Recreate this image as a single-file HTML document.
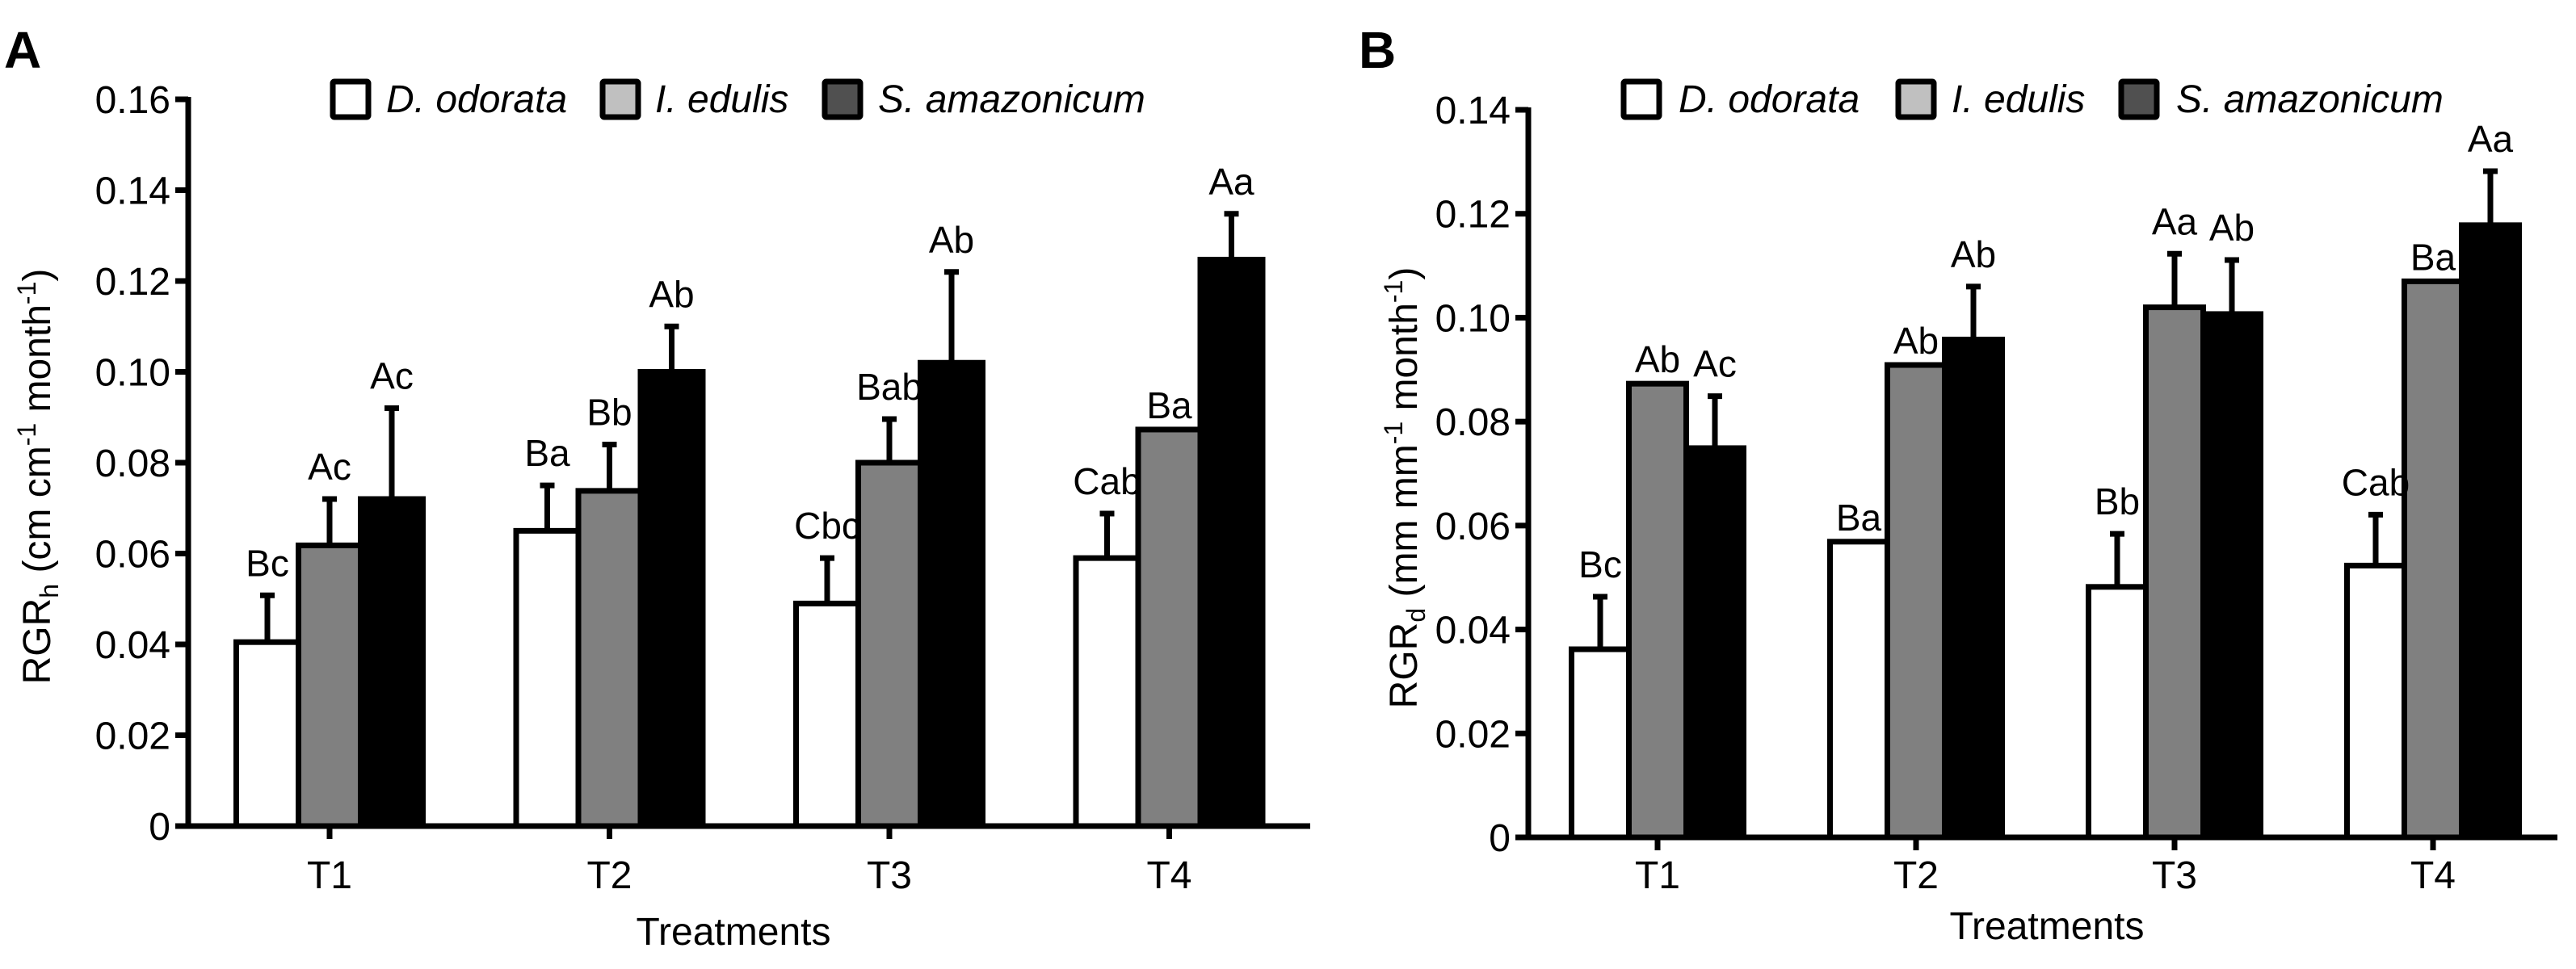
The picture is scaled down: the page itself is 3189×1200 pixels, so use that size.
<!DOCTYPE html>
<html><head><meta charset="utf-8"><style>
html,body{margin:0;padding:0;background:#fff;}
svg{display:block;font-family:"Liberation Sans",Arial,sans-serif;}
</style></head><body>
<svg id="chart" width="3189" height="1200" viewBox="0 0 3189 1200" xmlns="http://www.w3.org/2000/svg"></svg>
<script>
const categories = ["T1","T2","T3","T4"];
const seriesNames = ["D. odorata","I. edulis","S. amazonicum"];
// Panel A (RGRh)
const aOdorata = [0.0405, 0.065, 0.049, 0.059];
const aEdulis = [0.0618, 0.0738, 0.080, 0.0873];
const aAmazon = [0.072, 0.100, 0.102, 0.1247];
const aOdorataErr = [0.0103, 0.010, 0.010, 0.0098];
const aEdulisErr = [0.0102, 0.0102, 0.0096, 0];
const aAmazonErr = [0.020, 0.010, 0.020, 0.0101];
const aOdorataLbl = ["Bc","Ba","Cbc","Cab"];
const aEdulisLbl = ["Ac","Bb","Bab","Ba"];
const aAmazonLbl = ["Ac","Ab","Ab","Aa"];
const aTicks = [0,0.02,0.04,0.06,0.08,0.10,0.12,0.14,0.16];
const aTickLbl = ["0","0.02","0.04","0.06","0.08","0.10","0.12","0.14","0.16"];
// Panel B (RGRd)
const bOdorata = [0.0362, 0.0569, 0.0482, 0.0523];
const bEdulis = [0.0873, 0.0909, 0.102, 0.107];
const bAmazon = [0.0749, 0.0958, 0.1007, 0.1178];
const bOdorataErr = [0.0101, 0, 0.0102, 0.0098];
const bEdulisErr = [0, 0, 0.0103, 0];
const bAmazonErr = [0.010, 0.0102, 0.0104, 0.0104];
const bOdorataLbl = ["Bc","Ba","Bb","Cab"];
const bEdulisLbl = ["Ab","Ab","Aa","Ba"];
const bAmazonLbl = ["Ac","Ab","Ab","Aa"];
const bTicks = [0,0.02,0.04,0.06,0.08,0.10,0.12,0.14];
const bTickLbl = ["0","0.02","0.04","0.06","0.08","0.10","0.12","0.14"];

const NS="http://www.w3.org/2000/svg";
const svg=document.getElementById('chart');
function mk(tag,attrs,parent){const e=document.createElementNS(NS,tag);for(const k in attrs)e.setAttribute(k,attrs[k]);(parent||svg).appendChild(e);return e;}

function panel(cfg){
  const g=mk('g',{});
  
  
  const yS=v=>cfg.y0-(v/cfg.ymax)*(cfg.y0-cfg.yTop);
  const xS=i=>cfg.x1+i*cfg.step;
  const pl=mk('text',{x:cfg.letterX,y:84,'font-size':64,'font-weight':'bold'},g);pl.textContent=cfg.letter;
  
  
  cfg.ticks.forEach((t,i)=>{
    const y=yS(t);
    const tk=mk('line',{x1:cfg.ax-16,x2:cfg.ax,y1:y,y2:y,stroke:'#000','stroke-width':7},g);
    
    
    const tl=mk('text',{x:cfg.ax-22,y:y+17,'font-size':48,'text-anchor':'end'},g);tl.textContent=cfg.tickLbl[i];
    
    
  });
  const fills=['#fff','#808080','#000'];
  const sets=[cfg.s1,cfg.s2,cfg.s3],errs=[cfg.e1,cfg.e2,cfg.e3],lbls=[cfg.l1,cfg.l2,cfg.l3];
  const bw=cfg.bw;
  const labelLayer=[];
  categories.forEach((c,i)=>{
    const cx=xS(i);
    sets.forEach((s,j)=>{
      const left=cx-1.5*bw+j*bw;
      const top=yS(s[i]);
      const r=mk('rect',{x:left,y:top,width:bw,height:cfg.y0-top,fill:fills[j],stroke:'#000','stroke-width':7},g);
      
      
      const et=yS(s[i]+errs[j][i]);
      if(errs[j][i]>0){
        const el=mk('path',{d:`M${left+bw/2},${top} V${et} M${left+bw/2-9},${et} H${left+bw/2+9}`,stroke:'#000','stroke-width':7,fill:'none'},g);
        
        
      }
      labelLayer.push({x:left+bw/2,y:et-(errs[j][i]>0?24:14),t:lbls[j][i]});
    });
    const xt=mk('line',{x1:cx,x2:cx,y1:cfg.y0,y2:cfg.y0+16,stroke:'#000','stroke-width':7},g);
    
    
    const xl=mk('text',{x:cx,y:1100,'font-size':48,'text-anchor':'middle'},g);xl.textContent=c;
    
    
  });
  labelLayer.forEach(L=>{
    const lt=mk('text',{x:L.x,y:L.y,'font-size':46,'text-anchor':'middle'},g);
    lt.textContent=L.t;
    
    
  });
  const ya=mk('line',{x1:cfg.ax,x2:cfg.ax,y1:cfg.yTop-3,y2:cfg.y0+3,stroke:'#000','stroke-width':7},g);
  
  
  const xa=mk('line',{x1:cfg.ax-7,x2:cfg.xEnd,y1:cfg.y0,y2:cfg.y0,stroke:'#000','stroke-width':7},g);
  
  
  const xtl=mk('text',{x:cfg.xtX,y:cfg.xtY,'font-size':48,'text-anchor':'middle'},g);xtl.textContent='Treatments';
  
  
  const ytl=mk('text',{x:0,y:0,'font-size':48,'text-anchor':'middle',transform:`translate(${cfg.ytX},${cfg.ytY}) rotate(-90)`},g);
  ytl.innerHTML=cfg.ytitle;
  
  
  const lf=['#fff','#c0c0c0','#505050'];
  seriesNames.forEach((n,j)=>{
    const bx=mk('rect',{x:cfg.legBox[j],y:101,width:44,height:44,fill:lf[j],stroke:'#000','stroke-width':7,rx:2},g);
    
    
    const lt=mk('text',{x:cfg.legTxt[j],y:139,'font-size':48,'font-style':'italic'},g);lt.textContent=n;
    
    
  });
}

panel({id:'a',letter:'A',letterX:5,ax:233,y0:1023,yTop:123,ymax:0.16,x1:408,step:346.5,bw:77,xEnd:1622,
  ticks:aTicks,tickLbl:aTickLbl,s1:aOdorata,s2:aEdulis,s3:aAmazon,e1:aOdorataErr,e2:aEdulisErr,e3:aAmazonErr,
  l1:aOdorataLbl,l2:aEdulisLbl,l3:aAmazonLbl,xtX:908,xtY:1170,ytX:62,ytY:590,
  ytitle:'RGR<tspan font-size="32" dy="10">h</tspan><tspan dy="-10"> (cm cm</tspan><tspan font-size="32" dy="-18">-1</tspan><tspan dy="18"> month</tspan><tspan font-size="32" dy="-18">-1</tspan><tspan dy="18">)</tspan>',
  legBox:[412,746,1021],legTxt:[478,811,1087]});
panel({id:'b',letter:'B',letterX:1682,ax:1892,y0:1037,yTop:136,ymax:0.14,x1:2052,step:320,bw:71,xEnd:3166,
  ticks:bTicks,tickLbl:bTickLbl,s1:bOdorata,s2:bEdulis,s3:bAmazon,e1:bOdorataErr,e2:bEdulisErr,e3:bAmazonErr,
  l1:bOdorataLbl,l2:bEdulisLbl,l3:bAmazonLbl,xtX:2534,xtY:1163,ytX:1754,ytY:604,
  ytitle:'RGR<tspan font-size="32" dy="10">d</tspan><tspan dy="-10"> (mm mm</tspan><tspan font-size="32" dy="-18">-1</tspan><tspan dy="18"> month</tspan><tspan font-size="32" dy="-18">-1</tspan><tspan dy="18">)</tspan>',
  legBox:[2010,2350,2626],legTxt:[2078,2416,2694]});
</script>
</body></html>
